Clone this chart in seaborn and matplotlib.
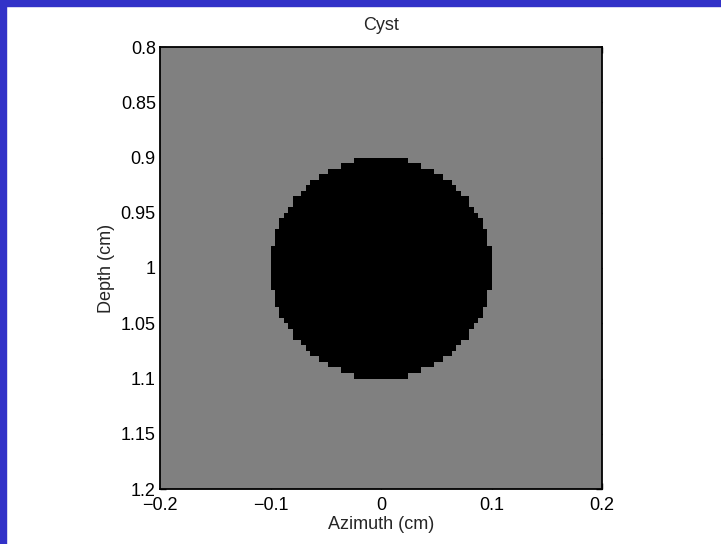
import numpy as np
import pandas as pd
import matplotlib
matplotlib.use("Agg")
import matplotlib.pyplot as plt
import seaborn as sns

# Cyst phantom: background and cyst amplitude, geometry in cm
azimuth_range = [-0.2, 0.2]
depth_range = [0.8, 1.2]
n_azimuth = 100
n_depth = 80
cyst_center = [0.0, 1.0]   # azimuth, depth
cyst_radius = 0.1
background_level = 0.5
cyst_level = 0.0

x_ticks = [-0.2, -0.1, 0, 0.1, 0.2]
x_tick_labels = ["\u22120.2", "\u22120.1", "0", "0.1", "0.2"]
y_ticks = [0.8, 0.85, 0.9, 0.95, 1, 1.05, 1.1, 1.15, 1.2]
y_tick_labels = ["0.8", "0.85", "0.9", "0.95", "1", "1.05", "1.1", "1.15", "1.2"]

sns.set_style("white")
plt.rcParams['font.family'] = ['Liberation Sans', 'DejaVu Sans']
fs = 13

dx = (azimuth_range[1] - azimuth_range[0]) / n_azimuth
dz = (depth_range[1] - depth_range[0]) / n_depth
xs = azimuth_range[0] + dx * (np.arange(n_azimuth) + 0.5)
zs = depth_range[0] + dz * (np.arange(n_depth) + 0.5)
X, Z = np.meshgrid(xs, zs)
inside = (X - cyst_center[0]) ** 2 + (Z - cyst_center[1]) ** 2 <= cyst_radius ** 2
img = np.where(inside, cyst_level, background_level)
df = pd.DataFrame(img, index=np.round(zs, 4), columns=np.round(xs, 4))

fig = plt.figure(figsize=(7.21, 5.44), dpi=100)
fig.patch.set_facecolor("white")

# blue slide frame (top and left)
fig.patches.append(plt.Rectangle((0, 0), 6 / 721, 1, transform=fig.transFigure,
                                 color="#3232c8", zorder=0))
fig.patches.append(plt.Rectangle((0, 1 - 6 / 544), 1, 6 / 544, transform=fig.transFigure,
                                 color="#3232c8", zorder=0))

ax = fig.add_axes([160 / 721, 55 / 544, 442 / 721, 442 / 544])
sns.heatmap(df, ax=ax, cmap="gray", vmin=0, vmax=1, cbar=False,
            xticklabels=False, yticklabels=False)

# map cm values to heatmap cell coordinates
def to_col(v):
    return (v - azimuth_range[0]) / dx

def to_row(v):
    return (v - depth_range[0]) / dz

ax.set_xlim(0, n_azimuth)
ax.set_ylim(n_depth, 0)
ax.set_xticks([to_col(v) for v in x_ticks])
ax.set_xticklabels(x_tick_labels, rotation=0)
ax.set_yticks([to_row(v) for v in y_ticks])
ax.set_yticklabels(y_tick_labels, rotation=0)
ax.tick_params(direction="in", length=4, width=1, colors="black", labelsize=fs,
               top=True, right=True, bottom=True, left=True, pad=3)
ax.tick_params(axis="x", pad=6)
for s in ax.spines.values():
    s.set_visible(True)
    s.set_color("black")
    s.set_linewidth(1.3)

ax.set_title("Cyst", fontsize=fs, pad=12)
ax.set_xlabel("Azimuth (cm)", fontsize=fs, labelpad=1)
ax.set_ylabel("Depth (cm)", fontsize=fs, labelpad=4)

fig.savefig("out.png", dpi=100)
